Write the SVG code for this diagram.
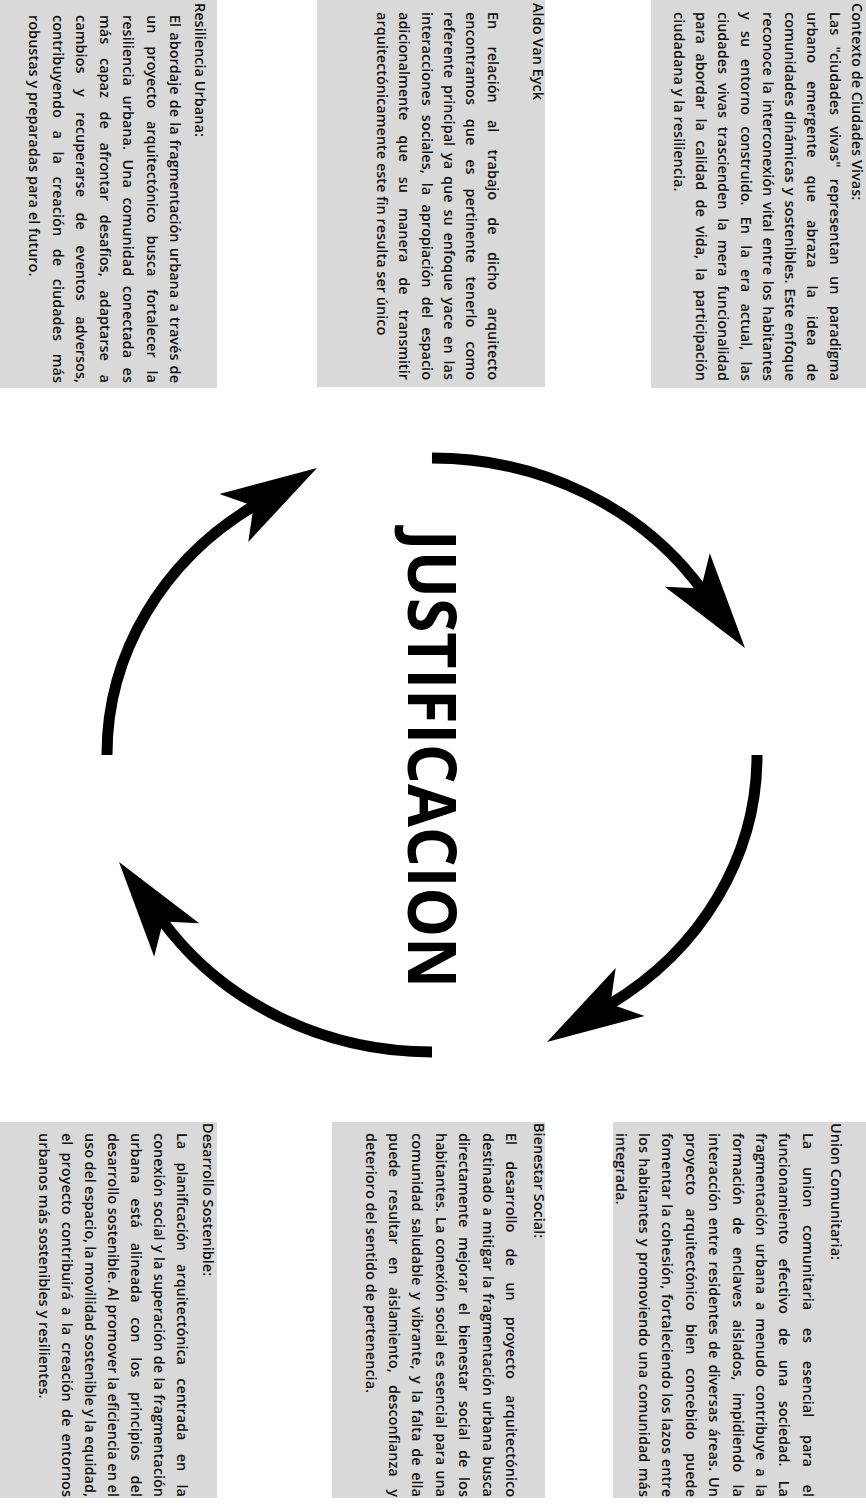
<svg xmlns="http://www.w3.org/2000/svg" width="866" height="1512" viewBox="0 0 866 1512">
<style>
.box{fill:#d9d9d9}
.t{font-family:"Open Sans","Liberation Sans",sans-serif;font-size:14.5px;font-weight:600;fill:#111}
.big{font-family:"Open Sans","Liberation Sans",sans-serif;font-size:66px;font-weight:700;fill:#000}
.shaft{fill:none;stroke:#000;stroke-width:11}
</style>
<defs>
<path id="head" d="M0,0 L-97,-28 L-74,0 L-97,28 Z" fill="#000"/>
</defs>
<rect width="866" height="1512" fill="#fff"/>

<g id="contexto">
<rect class="box" x="651" y="0" width="215" height="388"/>
<text class="t" transform="translate(852,3) rotate(90)">Contexto de Ciudades Vivas:</text>
<text class="t" transform="translate(829.7,12) rotate(90)" textLength="369" lengthAdjust="spacing" style="word-spacing:7.5px">Las "ciudades vivas" representan un paradigma</text>
<text class="t" transform="translate(807.4,12) rotate(90)" textLength="369" lengthAdjust="spacing" style="word-spacing:14.1px">urbano emergente que abraza la idea de</text>
<text class="t" transform="translate(785.1,12) rotate(90)" textLength="369" lengthAdjust="spacing" style="word-spacing:1.2px">comunidades dinámicas y sostenibles. Este enfoque</text>
<text class="t" transform="translate(762.8,12) rotate(90)" textLength="369" lengthAdjust="spacing" style="word-spacing:2px">reconoce la interconexión vital entre los habitantes</text>
<text class="t" transform="translate(740.5,12) rotate(90)" textLength="369" lengthAdjust="spacing" style="word-spacing:7.6px">y su entorno construido. En la era actual, las</text>
<text class="t" transform="translate(718.2,12) rotate(90)" textLength="369" lengthAdjust="spacing" style="word-spacing:5.2px">ciudades vivas trascienden la mera funcionalidad</text>
<text class="t" transform="translate(695.9,12) rotate(90)" textLength="369" lengthAdjust="spacing" style="word-spacing:5.5px">para abordar la calidad de vida, la participación</text>
<text class="t" transform="translate(673.6,12) rotate(90)">ciudadana y la resiliencia.</text>
</g>

<g id="aldo">
<rect class="box" x="317" y="0" width="228" height="387"/>
<text class="t" transform="translate(533,3) rotate(90)">Aldo Van Eyck</text>
<text class="t" transform="translate(488.4,12) rotate(90)" textLength="368" lengthAdjust="spacing" style="word-spacing:13.5px">En relación al trabajo de dicho arquitecto</text>
<text class="t" transform="translate(466.1,12) rotate(90)" textLength="368" lengthAdjust="spacing" style="word-spacing:10.1px">encontramos que es pertinente tenerlo como</text>
<text class="t" transform="translate(443.8,12) rotate(90)" textLength="368" lengthAdjust="spacing" style="word-spacing:3.1px">referente principal ya que su enfoque yace en las</text>
<text class="t" transform="translate(421.5,12) rotate(90)" textLength="368" lengthAdjust="spacing" style="word-spacing:5.4px">interacciones sociales, la apropiación del espacio</text>
<text class="t" transform="translate(399.2,12) rotate(90)" textLength="368" lengthAdjust="spacing" style="word-spacing:11.3px">adicionalmente que su manera de transmitir</text>
<text class="t" transform="translate(376.9,12) rotate(90)">arquitectónicamente este fin resulta ser único</text>
</g>

<g id="resiliencia">
<rect class="box" x="0" y="0" width="217" height="388"/>
<text class="t" transform="translate(195,3) rotate(90)">Resiliencia Urbana:</text>
<text class="t" transform="translate(170,15) rotate(90)" textLength="368" lengthAdjust="spacing" style="word-spacing:1.4px">El abordaje de la fragmentación urbana a través de</text>
<text class="t" transform="translate(146.5,15) rotate(90)" textLength="368" lengthAdjust="spacing" style="word-spacing:9.2px">un proyecto arquitectónico busca fortalecer la</text>
<text class="t" transform="translate(123,15) rotate(90)" textLength="368" lengthAdjust="spacing" style="word-spacing:5.8px">resiliencia urbana. Una comunidad conectada es</text>
<text class="t" transform="translate(99.5,15) rotate(90)" textLength="368" lengthAdjust="spacing" style="word-spacing:9.9px">más capaz de afrontar desafíos, adaptarse a</text>
<text class="t" transform="translate(76,15) rotate(90)" textLength="368" lengthAdjust="spacing" style="word-spacing:11.7px">cambios y recuperarse de eventos adversos,</text>
<text class="t" transform="translate(52.5,15) rotate(90)" textLength="368" lengthAdjust="spacing" style="word-spacing:8.8px">contribuyendo a la creación de ciudades más</text>
<text class="t" transform="translate(29,15) rotate(90)">robustas y preparadas para el futuro.</text>
</g>

<g id="union">
<rect class="box" x="613" y="1122" width="253" height="376"/>
<text class="t" transform="translate(831,1123) rotate(90)">Union Comunitaria:</text>
<text class="t" transform="translate(802.8,1133) rotate(90)" textLength="364" lengthAdjust="spacing" style="word-spacing:13.9px">La union comunitaria es esencial para el</text>
<text class="t" transform="translate(779.4,1133) rotate(90)" textLength="364" lengthAdjust="spacing" style="word-spacing:10.5px">funcionamiento efectivo de una sociedad. La</text>
<text class="t" transform="translate(756,1133) rotate(90)" textLength="364" lengthAdjust="spacing" style="word-spacing:4.2px">fragmentación urbana a menudo contribuye a la</text>
<text class="t" transform="translate(732.6,1133) rotate(90)" textLength="364" lengthAdjust="spacing" style="word-spacing:8.6px">formación de enclaves aislados, impidiendo la</text>
<text class="t" transform="translate(709.2,1133) rotate(90)" textLength="364" lengthAdjust="spacing" style="word-spacing:2.4px">interacción entre residentes de diversas áreas. Un</text>
<text class="t" transform="translate(685.8,1133) rotate(90)" textLength="364" lengthAdjust="spacing" style="word-spacing:9.6px">proyecto arquitectónico bien concebido puede</text>
<text class="t" transform="translate(662.4,1133) rotate(90)" textLength="364" lengthAdjust="spacing" style="word-spacing:0.8px">fomentar la cohesión, fortaleciendo los lazos entre</text>
<text class="t" transform="translate(639,1133) rotate(90)" textLength="364" lengthAdjust="spacing" style="word-spacing:1.5px">los habitantes y promoviendo una comunidad más</text>
<text class="t" transform="translate(615.6,1133) rotate(90)">integrada.</text>
</g>

<g id="bienestar">
<rect class="box" x="332" y="1122" width="213" height="376"/>
<text class="t" transform="translate(534,1123) rotate(90)">Bienestar Social:</text>
<text class="t" transform="translate(506,1133) rotate(90)" textLength="364" lengthAdjust="spacing" style="word-spacing:12.5px">El desarrollo de un proyecto arquitectónico</text>
<text class="t" transform="translate(482.6,1133) rotate(90)" textLength="364" lengthAdjust="spacing" style="word-spacing:1.2px">destinado a mitigar la fragmentación urbana busca</text>
<text class="t" transform="translate(459.2,1133) rotate(90)" textLength="364" lengthAdjust="spacing" style="word-spacing:6px">directamente mejorar el bienestar social de los</text>
<text class="t" transform="translate(435.8,1133) rotate(90)" textLength="364" lengthAdjust="spacing" style="word-spacing:1.2px">habitantes. La conexión social es esencial para una</text>
<text class="t" transform="translate(412.4,1133) rotate(90)" textLength="364" lengthAdjust="spacing" style="word-spacing:3.1px">comunidad saludable y vibrante, y la falta de ella</text>
<text class="t" transform="translate(389,1133) rotate(90)" textLength="364" lengthAdjust="spacing" style="word-spacing:8.8px">puede resultar en aislamiento, desconfianza y</text>
<text class="t" transform="translate(365.6,1133) rotate(90)">deterioro del sentido de pertenencia.</text>
</g>

<g id="desarrollo">
<rect class="box" x="0" y="1122" width="217" height="376"/>
<text class="t" transform="translate(203,1123) rotate(90)">Desarrollo Sostenible:</text>
<text class="t" transform="translate(177,1133) rotate(90)" textLength="364" lengthAdjust="spacing" style="word-spacing:9.7px">La planificación arquitectónica centrada en la</text>
<text class="t" transform="translate(154,1133) rotate(90)" textLength="364" lengthAdjust="spacing" style="word-spacing:0.6px">conexión social y la superación de la fragmentación</text>
<text class="t" transform="translate(131,1133) rotate(90)" textLength="364" lengthAdjust="spacing" style="word-spacing:11px">urbana está alineada con los principios del</text>
<text class="t" transform="translate(108,1133) rotate(90)" textLength="364" lengthAdjust="spacing" style="word-spacing:0px">desarrollo sostenible. Al promover la eficiencia en el</text>
<text class="t" transform="translate(85,1133) rotate(90)" textLength="364" lengthAdjust="spacing" style="word-spacing:-0.5px">uso del espacio, la movilidad sostenible y la equidad,</text>
<text class="t" transform="translate(62,1133) rotate(90)" textLength="364" lengthAdjust="spacing" style="word-spacing:3.5px">el proyecto contribuirá a la creación de entornos</text>
<text class="t" transform="translate(39,1133) rotate(90)">urbanos más sostenibles y resilientes.</text>
</g>

<g id="justificacion">
<text class="big" transform="translate(408,530) rotate(90)" textLength="458" lengthAdjust="spacingAndGlyphs">JUSTIFICACION</text>
</g>

<g id="connectors">
<path class="shaft" d="M432,458 A325,297 0 0 1 702.2,590.1"/>
<use href="#head" transform="translate(745,648) rotate(53.5)"/>
<path class="shaft" d="M757,755 A325,297 0 0 1 608.7,1004.9"/>
<use href="#head" transform="translate(547,1042) rotate(149)"/>
<path class="shaft" d="M432,1052 A325,297 0 0 1 161.8,919.9"/>
<use href="#head" transform="translate(119,862) rotate(233.5)"/>
<path class="shaft" d="M107,755 A325,297 0 0 1 255.3,505.1"/>
<use href="#head" transform="translate(317,468) rotate(329)"/>
</g>
</svg>
